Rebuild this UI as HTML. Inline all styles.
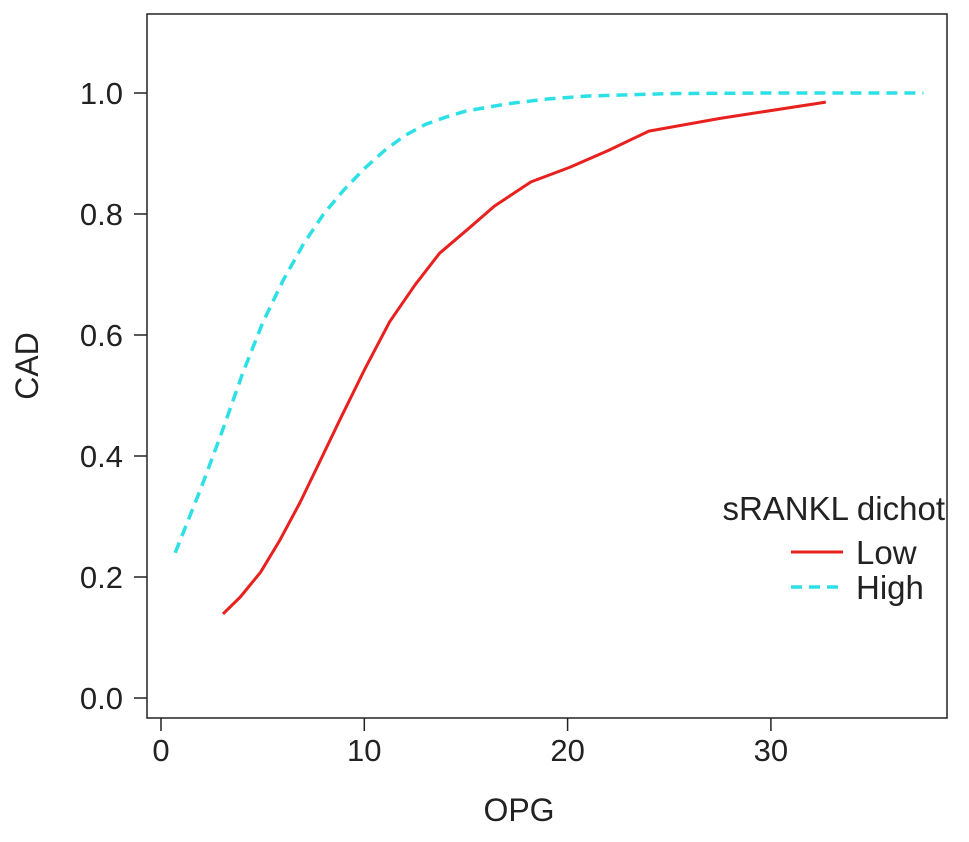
<!DOCTYPE html>
<html><head><meta charset="utf-8"><style>
body{margin:0;background:#fff;}
svg text{font-family:"Liberation Sans",Arial,sans-serif;fill:#222;}
</style></head><body>
<svg width="969" height="837" xmlns="http://www.w3.org/2000/svg">
<rect x="147" y="14" width="800" height="704" fill="none" stroke="#222" stroke-width="1.5"/>
<g id="axes"></g>
<path id="low" fill="none" stroke="#e8201e" stroke-width="3" stroke-linejoin="round"/>
<path id="high" fill="none" stroke="#2de0e6" stroke-width="3.5" stroke-dasharray="11,7"/>
<text x="38" y="366" font-size="32" text-anchor="middle" transform="rotate(-90 38 366)">CAD</text>
<text x="519" y="821" font-size="32" text-anchor="middle">OPG</text>
<g>
<text x="945" y="520" font-size="33" text-anchor="end">sRANKL dichot</text>
<line x1="791" y1="552" x2="843" y2="552" stroke="#e8201e" stroke-width="3"/>
<text x="856" y="564" font-size="33">Low</text>
<line x1="791" y1="587" x2="843" y2="587" stroke="#2de0e6" stroke-width="3.5" stroke-dasharray="11,7"/>
<text x="856" y="599" font-size="33">High</text>
</g>
</svg>
<script>
const xTicks=[0,10,20,30];
const yTicks=[0.0,0.2,0.4,0.6,0.8,1.0];
const lowX=[3.05,3.9,4.9,5.85,6.85,7.8,8.8,10,11.25,12.5,13.7,15.2,16.4,18.2,20.1,22,24,27.5,32.7];
const lowY=[0.139,0.167,0.208,0.261,0.324,0.39,0.46,0.542,0.622,0.683,0.735,0.778,0.813,0.853,0.877,0.905,0.937,0.958,0.985];
const highX=[0.7,2,3,4,5,6,7,8,9,10,11,12,13,14,15,17,19,21,25,30,37.5];
const highY=[0.24,0.35,0.44,0.535,0.62,0.69,0.75,0.80,0.84,0.875,0.905,0.93,0.948,0.96,0.97,0.982,0.99,0.995,0.999,1,1];
const sx=v=>161+v*20.33, sy=v=>698-v*605;
const ns="http://www.w3.org/2000/svg", g=document.getElementById('axes');
function mk(t,a){const e=document.createElementNS(ns,t);for(const k in a)e.setAttribute(k,a[k]);g.appendChild(e);return e;}
xTicks.forEach(v=>{
 const l=mk('line',{x1:sx(v),x2:sx(v),y1:718,y2:731,stroke:'#222','stroke-width':1.5});
 
 
 const t=mk('text',{x:sx(v),y:761,'font-size':31,'text-anchor':'middle'});t.textContent=v;
 
 
});
yTicks.forEach(v=>{
 const l=mk('line',{x1:134,x2:147,y1:sy(v),y2:sy(v),stroke:'#222','stroke-width':1.5});
 
 
 const t=mk('text',{x:123,y:sy(v)+11,'font-size':31,'text-anchor':'end'});t.textContent=v.toFixed(1);
 
 
});
function path(xs,ys){return xs.map((x,i)=>(i?'L':'M')+sx(x).toFixed(1)+','+sy(ys[i]).toFixed(1)).join(' ');}
document.getElementById('low').setAttribute('d',path(lowX,lowY));
document.getElementById('high').setAttribute('d',path(highX,highY));
</script>
</body></html>
